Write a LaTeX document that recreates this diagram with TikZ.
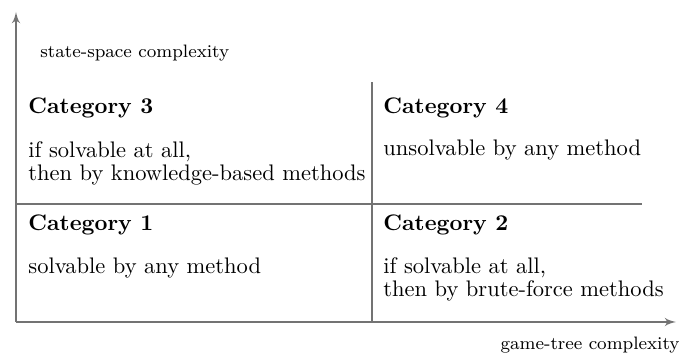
\documentclass[tikz,border=0pt]{standalone}
\usepackage{tikz}
\usetikzlibrary{arrows}
\definecolor{axisgrey}{rgb}{0.45,0.45,0.45}

\begin{document}
\begin{tikzpicture}[>=latex',line join=bevel,x=0.4445pt,y=0.4445pt,
    catlabel/.style={anchor=base west,inner sep=0pt,font=\bfseries},
    cattext/.style={anchor=base west,inner sep=0pt,align=left,font=\fontsize{10pt}{10.5pt}\selectfont},
    axislabel/.style={inner sep=0pt,font=\footnotesize}]
      \useasboundingbox (0,0) rectangle (681,356);
      %%
      \coordinate (origin) at (16,34);
      \coordinate (ytip) at (16,344);
      \coordinate (xtip) at (676,34);
      \coordinate (midtop) at (372,274);
      \coordinate (midbot) at (372,34);
      \coordinate (midleft) at (16,152);
      \coordinate (midright) at (642,152);
      \begin{scope}[draw=axisgrey,line width=0.75pt]
        \draw [->] (origin) -- (ytip);
        \draw [->] (origin) -- (xtip);
        \draw (midbot) -- (midtop);
        \draw (midleft) -- (midright);
      \end{scope}
      \node (ylabel) at (40,298) [axislabel,anchor=base west] {state-space complexity};
      \node (xlabel) at (680,6) [axislabel,anchor=base east] {game-tree complexity};
      \node (cat3) at (28,242) [catlabel] {Category 3};
      \node (txt3) at (28,175) [cattext] {if solvable at all,\\then by knowledge-based methods};
      \node (cat4) at (383,242) [catlabel] {Category 4};
      \node (txt4) at (383,200) [cattext] {unsolvable by any method};
      \node (cat1) at (28,125) [catlabel] {Category 1};
      \node (txt1) at (28,82) [cattext] {solvable by any method};
      \node (cat2) at (383,125) [catlabel] {Category 2};
      \node (txt2) at (383,59) [cattext] {if solvable at all,\\then by brute-force methods};
    \end{tikzpicture}
\end{document}
